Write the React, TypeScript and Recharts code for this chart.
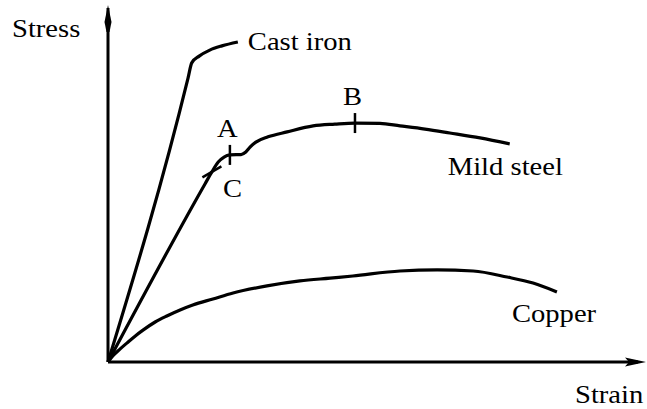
import { LineChart, Line, XAxis, YAxis, ReferenceDot, ReferenceLine } from 'recharts';

// values, arbitrary units (0-100 on both axes)
const castIronStrain = [0, 15.1, 15.8, 17.2, 19.2, 21.5, 24.5];
const castIronStress = [0, 80.2, 84.5, 86.4, 88.1, 89.3, 90.4];

const mildSteelStrain = [0, 18.3, 19.6, 20.8, 21.9, 23.0, 24.2, 25.1, 26.0, 26.8, 27.9, 30.2, 33.8, 38.7, 42.8, 46.6, 51.3, 55.1, 59.8, 64.5, 70.2, 75.8];
const mildSteelStress = [0, 50.3, 53.7, 56.5, 57.9, 58.5, 58.6, 58.6, 59.3, 60.7, 62.1, 63.6, 65.0, 66.7, 67.2, 67.5, 67.4, 66.7, 65.8, 64.7, 63.3, 61.6];

const copperStrain = [0, 0.9, 2.3, 3.6, 5.1, 6.6, 8.9, 11.1, 13.6, 16.0, 19.8, 23.6, 30.0, 36.2, 41.9, 46.2, 55.1, 62.1, 68.9, 75.3, 80.2, 84.7];
const copperStress = [0, 1.7, 3.7, 5.4, 7.3, 9.0, 11.3, 13.0, 14.7, 16.1, 17.8, 19.5, 21.5, 22.9, 23.7, 24.3, 25.7, 26.0, 25.7, 24.0, 22.3, 19.8];

// marked points on the mild steel curve
const pointNames = ['C', 'A', 'B'];
const pointStrain = [19.6, 23.0, 46.6];
const pointStress = [53.7, 58.5, 67.5];

const toRows = (xs: number[], ys: number[]) => xs.map((x, i) => ({ strain: x, stress: ys[i] }));

const castIron = toRows(castIronStrain, castIronStress);
const mildSteel = toRows(mildSteelStrain, mildSteelStress);
const copper = toRows(copperStrain, copperStress);

const FONT = 'Liberation Serif';

// the book's serif is a bit wider than Times, so stretch it sideways a little
function label(text: string, dx: number, dy: number) {
  return (p: any) => (
    <text
      transform={`translate(${p.cx + dx},${p.cy + dy}) scale(1.1,1)`}
      x={0}
      y={0}
      fontSize={26}
      fontFamily={FONT}
      style={{ fontFamily: FONT }}
    >
      {text}
    </text>
  );
}

function tick(dx: number, dy: number) {
  return (p: any) => (
    <line x1={p.cx - dx} y1={p.cy - dy} x2={p.cx + dx} y2={p.cy + dy} stroke="#000" strokeWidth={2.5} />
  );
}

// tick direction and label offset for C, A, B
const tickDir = [[9.5, -5.5], [0, 10], [0, 10]];
const nameOffset = [[11, 25], [-13, -18], [-12, -18]];

export default function App() {
  const last = (rows: { strain: number; stress: number }[]) => rows[rows.length - 1];
  return (
    <div style={{ position: 'absolute', left: 0, top: 0, background: '#fff', fontFamily: FONT }}>
      <LineChart
        width={647}
        height={409}
        margin={{ top: 8, right: 9, bottom: 47, left: 108 }}
        style={{ fontFamily: FONT }}
      >
        <XAxis type="number" dataKey="strain" domain={[0, 100]} hide />
        <YAxis type="number" dataKey="stress" domain={[0, 100]} hide />

        {/* axes */}
        <ReferenceLine x={0} stroke="#000" strokeWidth={3} ifOverflow="visible" />
        <ReferenceLine y={0} stroke="#000" strokeWidth={3} ifOverflow="visible" />

        <Line data={castIron} dataKey="stress" type="monotone" stroke="#000" strokeWidth={3.2} dot={false} isAnimationActive={false} />
        <Line data={mildSteel} dataKey="stress" type="monotone" stroke="#000" strokeWidth={3.2} dot={false} isAnimationActive={false} />
        <Line data={copper} dataKey="stress" type="monotone" stroke="#000" strokeWidth={3.2} dot={false} isAnimationActive={false} />

        {/* axis arrowheads */}
        <ReferenceDot
          x={0}
          y={100}
          ifOverflow="visible"
          shape={(p: any) => (
            <path d={`M${p.cx},${p.cy - 3} L${p.cx + 3.5},${p.cy + 14} L${p.cx + 1.5},${p.cy + 24} L${p.cx - 1.5},${p.cy + 24} L${p.cx - 3.5},${p.cy + 14} Z`} fill="#000" />
          )}
        />
        <ReferenceDot
          x={100}
          y={0}
          ifOverflow="visible"
          shape={(p: any) => (
            <path d={`M${p.cx + 8},${p.cy} L${p.cx - 13},${p.cy - 4.5} L${p.cx - 9},${p.cy} L${p.cx - 13},${p.cy + 4.5} Z`} fill="#000" />
          )}
        />

        {/* axis titles */}
        <ReferenceDot x={0} y={100} ifOverflow="visible" shape={label('Stress', -96, 29)} />
        <ReferenceDot x={100} y={0} ifOverflow="visible" shape={label('Strain', -63, 41)} />

        {/* curve names */}
        <ReferenceDot x={last(castIron).strain} y={last(castIron).stress} ifOverflow="visible" shape={label('Cast iron', 10, 8)} />
        <ReferenceDot x={last(mildSteel).strain} y={last(mildSteel).stress} ifOverflow="visible" shape={label('Mild steel', -62, 31)} />
        <ReferenceDot x={last(copper).strain} y={last(copper).stress} ifOverflow="visible" shape={label('Copper', -45, 30)} />

        {/* marked points */}
        {pointNames.map((name, i) => (
          <ReferenceDot key={`t-${name}`} x={pointStrain[i]} y={pointStress[i]} ifOverflow="visible" shape={tick(tickDir[i][0], tickDir[i][1])} />
        ))}
        {pointNames.map((name, i) => (
          <ReferenceDot key={`n-${name}`} x={pointStrain[i]} y={pointStress[i]} ifOverflow="visible" shape={label(name, nameOffset[i][0], nameOffset[i][1])} />
        ))}
      </LineChart>
    </div>
  );
}
